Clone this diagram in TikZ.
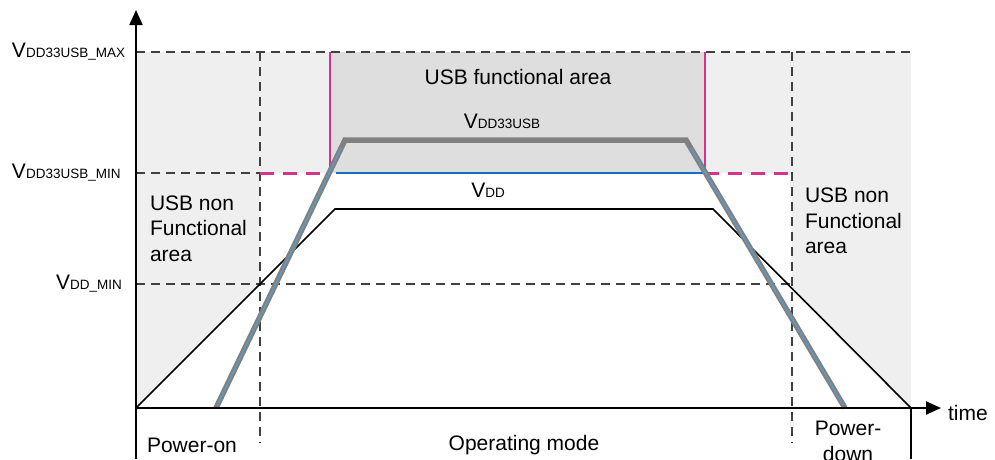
\documentclass[tikz,border=0pt]{standalone}
\usepackage{fontspec}
\setmainfont{Liberation Sans}
\usetikzlibrary{arrows.meta,calc}
\definecolor{bglight}{HTML}{EFEFEF}
\definecolor{bgdark}{HTML}{DEDEDE}
\definecolor{usbpink}{RGB}{214,51,138}
\definecolor{vddblue}{RGB}{20,110,195}
\definecolor{curvegray}{RGB}{128,128,128}
\definecolor{curveblue}{RGB}{95,155,195}
\definecolor{gridgray}{HTML}{404040}
\newcommand{\Vlab}[1]{V{\fontsize{13.5}{14}\selectfont #1}}
\begin{document}
\begin{tikzpicture}[x=1pt,y=-1pt,
  lbl/.style={font=\fontsize{21}{25.5}\selectfont, inner sep=0pt, outer sep=0pt},
  gridline/.style={draw=gridgray, line width=1.3pt, dash pattern=on 9pt off 6pt},
  pinkline/.style={draw=usbpink, line width=2.2pt},
  pinkdash/.style={draw=usbpink, line width=3pt, dash pattern=on 14pt off 9pt},
  vddline/.style={draw=black, line width=1.6pt, line join=miter},
  usbcurve/.style={draw=curvegray, line width=5.5pt, line join=miter},
  usbcore/.style={draw=curveblue, line width=1.4pt},
  axis/.style={draw=black, line width=2.2pt}]
\useasboundingbox (0,0) rectangle (995,459);
% key coordinates
\coordinate (o) at (136,408);
\coordinate (ytop) at (136,10);
\coordinate (ybot) at (136,459);
\coordinate (xend) at (941,408);
\coordinate (tend) at (911,408);
\coordinate (tendb) at (911,459);
\coordinate (vdd1) at (335,209);
\coordinate (vdd2) at (713,209);
\coordinate (usb0) at (216,408);
\coordinate (usb1) at (345,140);
\coordinate (usb2) at (686,140);
\coordinate (usb3) at (845,408);
% backgrounds
\fill[bglight] (136,52) rectangle (911,408);
\fill[white] (260,173) rectangle (792,408);
\fill[white] (o) -- (vdd1) -- (vdd2) -- (tend) -- cycle;
\fill[bgdark] (330,52) rectangle (705,173);
% dashed guide lines
\draw[gridline] (136,52) -- (911,52);
\draw[gridline] (136,173) -- (260,173);
\draw[gridline] (136,284) -- (792,284);
\draw[gridline] (260,52) -- (260,443);
\draw[gridline] (792,52) -- (792,443);
% USB area limits
\draw[pinkline] (330,52) -- (330,174);
\draw[pinkline] (705,52) -- (705,174);
\draw[pinkdash] (260,173) -- (331,173);
\draw[pinkdash] (705,173) -- (792,173);
\draw[draw=vddblue, line width=2.2pt] (336,173) -- (704,173);
% VDD
\draw[vddline] (o) -- (vdd1) -- (vdd2) -- (tend);
% VDD33USB
\draw[usbcurve] (usb0) -- (usb1) -- (usb2) -- (usb3);
\draw[usbcore] ($(usb0)!0.01!(usb1)$) -- ($(usb0)!0.97!(usb1)$);
\draw[usbcore] ($(usb2)!0.03!(usb3)$) -- ($(usb2)!0.99!(usb3)$);
% axes
\draw[axis, -{Triangle[length=15pt,width=13pt]}] (ybot) -- (ytop);
\draw[axis, -{Triangle[length=15pt,width=13pt]}] (o) -- (xend);
\draw[draw=black, line width=1.6pt] (tend) -- (tendb);
% labels
\node[lbl, anchor=base west] (lmax) at (12,57.5) {\Vlab{DD33USB\_MAX}};
\node[lbl, anchor=base west] (lmin) at (12,178.5) {\Vlab{DD33USB\_MIN}};
\node[lbl, anchor=base west] (lddmin) at (56,289) {\Vlab{DD\_MIN}};
\node[lbl, anchor=base] (usbarea) at (518,84) {USB functional area};
\node[lbl, anchor=base] (lusb) at (502,128) {\Vlab{DD33USB}};
\node[lbl, anchor=base] (lvdd) at (488,197) {\Vlab{DD}};
\node[lbl, anchor=north west, align=left] (nonl) at (150,195.5) {USB non\\Functional\\area};
\node[lbl, anchor=north west, align=left] (nonr) at (805,188) {USB non\\Functional\\area};
\node[lbl, anchor=base west] (pon) at (147,452) {Power-on};
\node[lbl, anchor=base] (opm) at (524,450) {Operating mode};
\node[lbl, anchor=base] (pdown1) at (848,435) {Power-};
\node[lbl, anchor=base] (pdown2) at (848,461) {down};
\node[lbl, anchor=base west] (ltime) at (948,420) {time};
\end{tikzpicture}
\end{document}
